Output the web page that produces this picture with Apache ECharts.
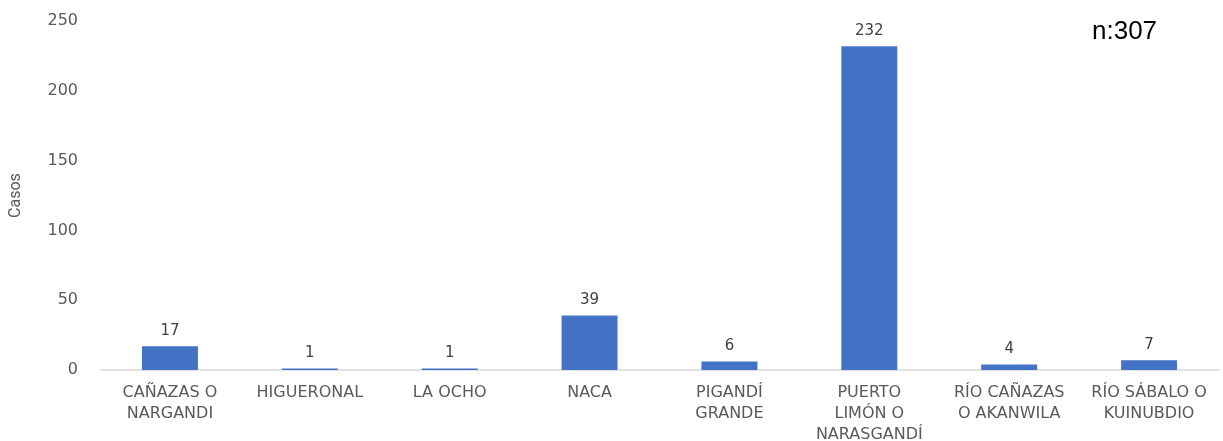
<!DOCTYPE html>
<html>
<head>
<meta charset="utf-8">
<script src="https://cdn.jsdelivr.net/npm/echarts@6/dist/echarts.min.js"></script>
<style>
html,body{margin:0;padding:0;background:#fff;overflow:hidden;}
#chart{width:1223px;height:441px;}
</style>
</head>
<body>
<div id="chart"></div>
<script>
const categories = [
  "CAÑAZAS O\nNARGANDI",
  "HIGUERONAL",
  "LA OCHO",
  "NACA",
  "PIGANDÍ\nGRANDE",
  "PUERTO\nLIMÓN O\nNARASGANDÍ",
  "RÍO CAÑAZAS\nO AKANWILA",
  "RÍO SÁBALO O\nKUINUBDIO"
];
const casos = [17, 1, 1, 39, 6, 232, 4, 7];
const yTicks = [0, 50, 100, 150, 200, 250];
const axisTitle = "Casos";
const noteText = "n:307";

const chart = echarts.init(document.getElementById('chart'));
chart.setOption({
  animation: false,
  backgroundColor: '#ffffff',
  grid: {left: 100, right: 4, top: 21, bottom: 71, containLabel: false, outerBoundsMode: 'none'},
  xAxis: {
    type: 'category',
    data: categories,
    axisLine: {show: true, lineStyle: {color: '#d9d9d9', width: 1.5}},
    axisTick: {show: false},
    axisLabel: {
      interval: 0, color: '#595959', fontFamily: 'DejaVu Sans', fontSize: 16,
      lineHeight: 21, margin: 12
    }
  },
  yAxis: {
    type: 'value',
    min: yTicks[0], max: yTicks[yTicks.length - 1], interval: 50,
    name: axisTitle,
    nameLocation: 'middle',
    nameGap: 76,
    nameRotate: 90,
    nameTextStyle: {color: '#595959', fontFamily: 'Liberation Sans Narrow, Roboto, sans-serif', fontSize: 16},
    axisLine: {show: false},
    axisTick: {show: false},
    splitLine: {show: false},
    axisLabel: {color: '#595959', fontFamily: 'DejaVu Sans', fontSize: 16, margin: 22}
  },
  series: [{
    type: 'bar',
    data: casos,
    barWidth: '40%',
    itemStyle: {color: '#4472C4'},
    label: {
      show: true, position: 'top', distance: 8,
      color: '#404040', fontFamily: 'DejaVu Sans', fontSize: 15
    }
  }],
  graphic: [{
    type: 'text',
    left: 1092, top: 19,
    style: {text: noteText, fill: '#000000', fontFamily: 'Liberation Sans, Arial, sans-serif', fontSize: 26}
  }]
});
</script>
</body>
</html>
